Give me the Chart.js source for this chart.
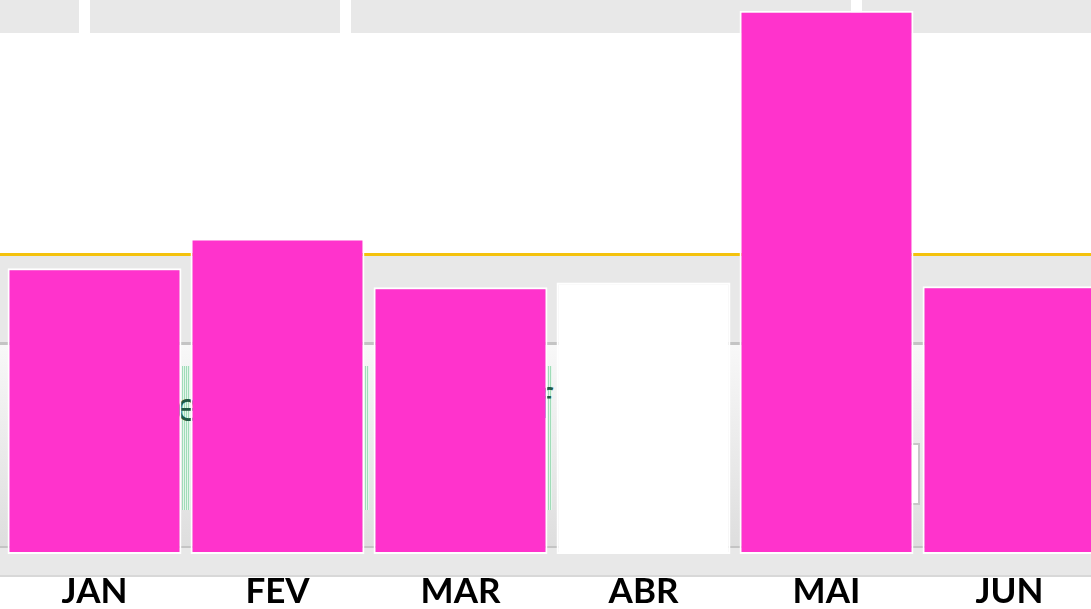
<!DOCTYPE html>
<html>
<head>
<meta charset="utf-8">
<script src="https://cdn.jsdelivr.net/npm/chart.js@4/dist/chart.umd.min.js"></script>
<style>
  html, body { margin: 0; padding: 0; overflow: hidden; background: #fff; }
  #wrap { position: relative; width: 1091px; height: 609px; overflow: hidden; }
  .bg { position: absolute; }
  #box { position: absolute; left: 0; top: 0; width: 1101px; height: 630px; }
</style>
</head>
<body>
<div id="wrap">
  <!-- fundo (restos da captura de ecrã) -->
  <div class="bg" style="left:0;top:0;width:79px;height:33px;background:#e8e8e8"></div>
  <div class="bg" style="left:90px;top:0;width:250px;height:33px;background:#e8e8e8"></div>
  <div class="bg" style="left:351px;top:0;width:500px;height:33px;background:#e8e8e8"></div>
  <div class="bg" style="left:862px;top:0;width:229px;height:33px;background:#e8e8e8"></div>
  <div class="bg" style="left:0;top:253px;width:1091px;height:3px;background:#f4c20d"></div>
  <div class="bg" style="left:0;top:256px;width:1091px;height:86px;background:#e8e8e8"></div>
  <div class="bg" style="left:0;top:342px;width:1091px;height:3px;background:#c4c4c4"></div>
  <div class="bg" style="left:0;top:345px;width:1091px;height:201px;background:linear-gradient(#f8f8f8,#dedede)"></div>
  <div class="bg" style="left:0;top:546px;width:1091px;height:2px;background:#c4c4c4"></div>
  <div class="bg" style="left:0;top:548px;width:1091px;height:27px;background:#e8e8e8"></div>
  <div class="bg" style="left:0;top:575px;width:1091px;height:2px;background:#d8d8d8"></div>
  <div class="bg" style="left:182px;top:366px;width:8px;height:144px;background:repeating-linear-gradient(90deg,#9fdcb8 0 1px,#e6f5ec 1px 2px)"></div>
  <div class="bg" style="left:361px;top:366px;width:8px;height:144px;background:repeating-linear-gradient(90deg,#9fdcb8 0 1px,#e6f5ec 1px 2px)"></div>
  <div class="bg" style="left:540px;top:366px;width:12px;height:144px;background:repeating-linear-gradient(90deg,#9fdcb8 0 1px,#e6f5ec 1px 2px)"></div>
  <div class="bg" style="left:176px;top:378px;font:40px 'Open Sans';color:#1f5a45">e</div>
  <div class="bg" style="left:538px;top:375px;font:40px 'Open Sans';color:#1f5a45">f</div>
  <div class="bg" style="left:888px;top:378px;font:40px 'Open Sans';color:#3a4a55">e</div>
  <div class="bg" style="left:880px;top:443px;width:38px;height:58px;border:2px solid #c8c8c8;border-left:none;background:#fff"></div>
  <div id="box"><canvas id="graficoMeses"></canvas></div>
</div>
<script>
  // Dados do gráfico
  const meses = ['JAN', 'FEV', 'MAR', 'ABR', 'MAI', 'JUN'];
  const valores = [52.6, 58.1, 49.1, 50.0, 100, 49.3];
  const cores = ['#ff33cc', '#ff33cc', '#ff33cc', '#ffffff', '#ff33cc', '#ff33cc'];

  const config = {
    type: 'bar',
    data: {
      labels: meses,
      datasets: [{
        data: valores,
        backgroundColor: cores,
        borderColor: '#ffffff',
        borderWidth: 2,
        borderSkipped: false,
        barPercentage: 0.96,
        categoryPercentage: 0.99
      }]
    },
    options: {
      responsive: true,
      maintainAspectRatio: false,
      animation: false,
      layout: { padding: { left: 3, right: 0, top: 0, bottom: 0 } },
      plugins: {
        legend: { display: false },
        tooltip: { enabled: false }
      },
      scales: {
        x: {
          grid: { display: false, drawTicks: false },
          border: { display: false },
          ticks: {
            color: '#000',
            padding: 17,
            font: { family: 'Lato', weight: 'bold', size: 35 }
          }
        },
        y: {
          display: false,
          min: 0,
          max: 102
        }
      }
    }
  };

  // Desenhar
  const ctx = document.getElementById('graficoMeses').getContext('2d');
  new Chart(ctx, config);
</script>
</body>
</html>
